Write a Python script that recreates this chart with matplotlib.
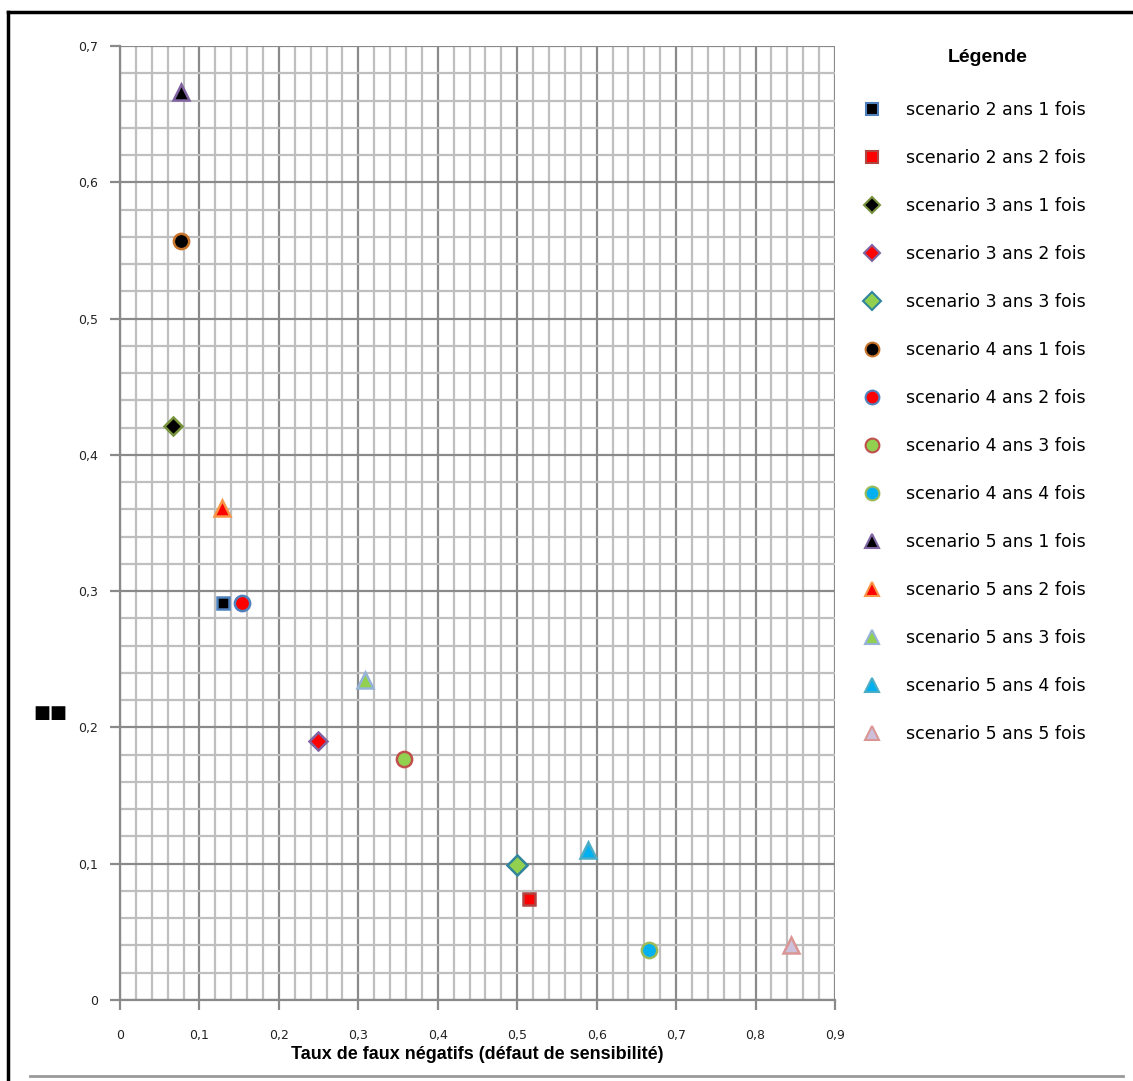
import numpy as np
import matplotlib.pyplot as plt
from matplotlib.ticker import MultipleLocator, FuncFormatter
from matplotlib.lines import Line2D

# scenario data (taux de faux negatifs, ordonnee)
labels = ["scenario 2 ans 1 fois", "scenario 2 ans 2 fois",
          "scenario 3 ans 1 fois", "scenario 3 ans 2 fois", "scenario 3 ans 3 fois",
          "scenario 4 ans 1 fois", "scenario 4 ans 2 fois", "scenario 4 ans 3 fois",
          "scenario 4 ans 4 fois",
          "scenario 5 ans 1 fois", "scenario 5 ans 2 fois", "scenario 5 ans 3 fois",
          "scenario 5 ans 4 fois", "scenario 5 ans 5 fois"]
x_vals = [0.130, 0.515, 0.067, 0.249, 0.500, 0.077, 0.154, 0.357, 0.666,
          0.077, 0.128, 0.308, 0.589, 0.845]
y_vals = [0.291, 0.074, 0.421, 0.190, 0.099, 0.557, 0.291, 0.177, 0.037,
          0.666, 0.361, 0.235, 0.110, 0.040]
markers = ['s', 's', 'D', 'D', 'D', 'o', 'o', 'o', 'o', '^', '^', '^', '^', '^']
faces = ['black', '#ff0000', 'black', '#ff0000', '#92d050', 'black', '#ff0000',
         '#92d050', '#00b0f0', 'black', '#ff0000', '#92d050', '#00b0f0', '#ccc0da']
edges = ['#4f81bd', '#b04542', '#77933c', '#8064a2', '#31859c', '#c8732a', '#4f81bd',
         '#c0504d', '#9bbb59', '#8064a2', '#f79646', '#95b3d7', '#4bacc6', '#d99694']
sizes = [9, 9, 9, 9, 10, 11, 11, 11, 11, 11, 11, 11, 11, 11]

fig = plt.figure(figsize=(11.33, 10.81), dpi=100)
ax = fig.add_axes([120 / 1133, 1 - 1000 / 1081, 715 / 1133, 954 / 1081])

ax.set_xlim(0, 0.9)
ax.set_ylim(0, 0.7)
ax.xaxis.set_major_locator(MultipleLocator(0.1))
ax.yaxis.set_major_locator(MultipleLocator(0.1))
ax.xaxis.set_minor_locator(MultipleLocator(0.02))
ax.yaxis.set_minor_locator(MultipleLocator(0.02))
ax.grid(which='minor', color='#bfbfbf', lw=1.6, zorder=0)
ax.grid(which='major', color='#8a8a8a', lw=1.6, zorder=1)
ax.set_axisbelow(True)

fmt = FuncFormatter(lambda v, p: ('%g' % round(v, 2)).replace('.', ','))
ax.xaxis.set_major_formatter(fmt)
ax.yaxis.set_major_formatter(fmt)
ax.tick_params(which='major', length=7, width=1.6, color='#8a8a8a', labelsize=9,
               labelcolor='#222222')
ax.tick_params(which='minor', length=0)
ax.tick_params(axis='x', pad=14)
ax.tick_params(axis='y', pad=9)
for s in ax.spines.values():
    s.set_visible(False)
ax.spines['left'].set_visible(True)
ax.spines['bottom'].set_visible(True)
ax.spines['left'].set_color('#8a8a8a')
ax.spines['bottom'].set_color('#8a8a8a')
ax.spines['left'].set_linewidth(1.6)
ax.spines['bottom'].set_linewidth(1.6)

handles = []
for i in range(len(labels)):
    ax.plot(x_vals[i], y_vals[i], marker=markers[i], ms=sizes[i], mfc=faces[i],
            mec=edges[i], mew=1.8, ls='none', zorder=5, clip_on=False)
    handles.append(Line2D([], [], marker=markers[i], ms=sizes[i] * 0.9, mfc=faces[i],
                          mec=edges[i], mew=1.5, ls='none'))

ax.set_xlabel("Taux de faux négatifs (défaut de sensibilité)",
              family='Liberation Sans', fontweight='bold',
              fontsize=13, labelpad=3)

fig.text(988 / 1133, 1 - 58 / 1081, "Légende", ha='center', va='center',
         family='Liberation Sans', fontweight='bold', fontsize=14)
leg = fig.legend(handles, labels, loc='upper left',
                 bbox_to_anchor=(846 / 1133, 1 - 85 / 1081), frameon=False,
                 fontsize=12.5, labelspacing=1.73, handletextpad=1.35,
                 handlelength=1.2)

# illegible axis title on the left
fig.text(50 / 1133, 1 - 713 / 1081, "■■", ha='center', va='center',
         fontsize=13, fontweight='bold')

# outer frame
fig.add_artist(Line2D([8 / 1133, 8 / 1133], [0, 1 - 12 / 1081], color='black', lw=2.5,
                      transform=fig.transFigure))
fig.add_artist(Line2D([8 / 1133, 1], [1 - 12 / 1081, 1 - 12 / 1081], color='black', lw=2.5,
                      transform=fig.transFigure))
fig.add_artist(Line2D([30 / 1133, 1123 / 1133], [1 - 1076 / 1081, 1 - 1076 / 1081],
                      color='#999999', lw=2, transform=fig.transFigure))

fig.savefig("out.png", dpi=100)
